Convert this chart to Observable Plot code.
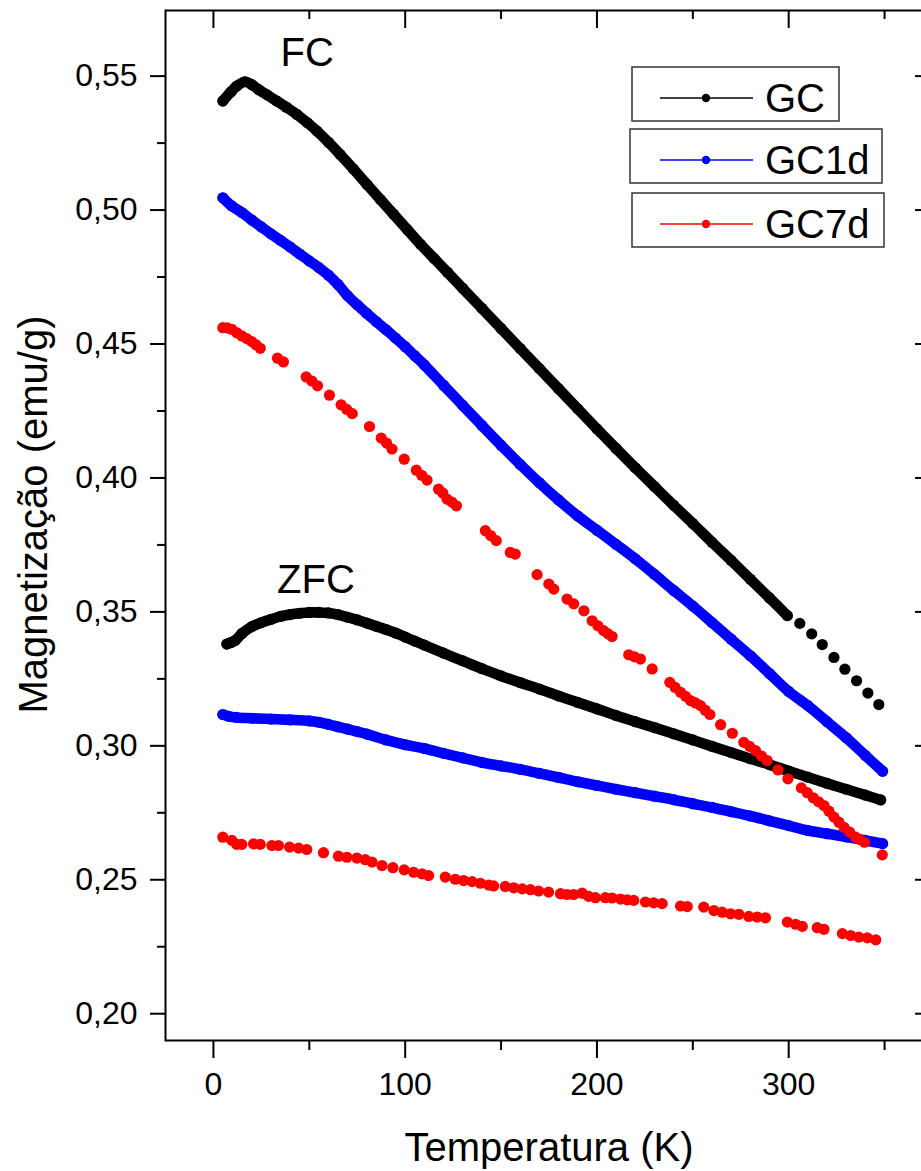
<!DOCTYPE html>
<html>
<head>
<meta charset="utf-8">
<script src="https://cdn.jsdelivr.net/npm/d3@7"></script>
<script src="https://cdn.jsdelivr.net/npm/@observablehq/plot@0.6"></script>
<style>
html, body { margin: 0; padding: 0; background: #fff; overflow: hidden; }
#chart { width: 921px; height: 1171px; }
</style>
</head>
<body>
<div id="chart"></div>
<script>
// ---------- data: [Temperatura (K), Magnetização (emu/g)] ----------
// GC, field cooled
const gcFC = [[4.9,0.5407],[9.1,0.5441],[12.2,0.5463],[16.5,0.5479],[20,0.5468],[23.5,0.5450],[28,0.5430],[33,0.5407],[38,0.5384],[43.5,0.5357],[49,0.5326],[54,0.5295],[60,0.5253],[66,0.5208],[73,0.5153],[80,0.5096],[87,0.5040],[94,0.4984],[101,0.4928],[108,0.4872],[115,0.4820],[122,0.4768],[130,0.4708],[140,0.4633],[150,0.4558],[160,0.4483],[170,0.4408],[180,0.4333],[190,0.4258],[200,0.4183],[210,0.4110],[220,0.4038],[230,0.3968],[240,0.3898],[250,0.3830],[260,0.3760],[270,0.3692],[280,0.3622],[290,0.3552],[299.3,0.3486]];
const gcFCsparse = [[305.8,0.3457],[312,0.3418],[317.5,0.3378],[323.6,0.3330],[329.3,0.3286],[335.4,0.3243],[341.3,0.3197],[347,0.3154]];
// GC1d, field cooled
const gc1dFC = [[4.9,0.5046],[9.6,0.5015],[15,0.4990],[20,0.4963],[25,0.4937],[30,0.4911],[35,0.4887],[40,0.4862],[45,0.4836],[50,0.4810],[55,0.4785],[60,0.4757],[65,0.4722],[70,0.4680],[75,0.4646],[80,0.4614],[85,0.4583],[90,0.4553],[95,0.4522],[100,0.4490],[105,0.4456],[110,0.4422],[120,0.4346],[130,0.4271],[140,0.4196],[150,0.4122],[160,0.4050],[170,0.3982],[180,0.3918],[190,0.3858],[200,0.3805],[210,0.3752],[220,0.3698],[230,0.3640],[240,0.3580],[250,0.3522],[260,0.3460],[270,0.3398],[280,0.3336],[290,0.3270],[300,0.3203],[310,0.3150],[320,0.3090],[330,0.3030],[340,0.2964],[349,0.2905]];
// GC7d, field cooled
const gc7dFC = [[4.9,0.4561],[7.2,0.4560],[9.6,0.4555],[12.2,0.4542],[14.8,0.4530],[17.4,0.4520],[20,0.4509],[22.2,0.4497],[24.4,0.4484],[33.4,0.4447],[36.5,0.4433],[48.4,0.4377],[51.3,0.4362],[54.3,0.4344],[60.5,0.4309],[66.6,0.4273],[69.5,0.4256],[72.4,0.4240],[81.4,0.4192],[87.5,0.4149],[90.3,0.4130],[93.1,0.4108],[99.5,0.4070],[105.8,0.4029],[108.6,0.4010],[111.4,0.3992],[117.4,0.3958],[119.6,0.3944],[121.8,0.3921],[124.3,0.3910],[126.7,0.3896],[141.8,0.3803],[144.6,0.3785],[147.5,0.3766],[154.8,0.3722],[157.4,0.3716],[168.8,0.3639],[174.9,0.3604],[177.5,0.3585],[184.4,0.3548],[187.9,0.3530],[193.2,0.3504],[197.5,0.3467],[200.5,0.3448],[203.5,0.3430],[205.8,0.3418],[207.9,0.3408],[216.6,0.3340],[219.6,0.3332],[222.7,0.3324],[228.8,0.3287],[238,0.3237],[240.8,0.3218],[243.6,0.3200],[246.2,0.3185],[248.8,0.3169],[251.4,0.3160],[254,0.3150],[256.5,0.3133],[258.9,0.3117],[264.5,0.3079],[270.6,0.3047],[276.6,0.3013],[279.6,0.2998],[282.7,0.2982],[285.8,0.2962],[288.8,0.2945],[294.4,0.2910],[299.6,0.2877],[306.6,0.2843],[309.7,0.2825],[312.8,0.2806],[315.6,0.2791],[318.4,0.2777],[321,0.2756],[323.6,0.2734],[326.2,0.2715],[328.8,0.2696],[331.8,0.2678],[334.9,0.2659],[337.3,0.2650],[339.6,0.2640],[348.8,0.2593]];
// GC, zero field cooled
const gcZFC = [[7,0.3380],[9,0.3385],[11.3,0.3393],[15,0.3420],[20,0.3445],[25,0.3460],[30,0.3472],[35,0.3483],[40,0.3490],[45,0.3495],[50,0.3498],[55,0.3498],[60,0.3496],[65,0.3490],[70,0.3480],[75,0.3470],[80,0.3458],[85,0.3446],[90,0.3434],[95,0.3421],[100,0.3406],[105,0.3391],[110,0.3376],[120,0.3346],[130,0.3317],[140,0.3288],[150,0.3261],[160,0.3236],[170,0.3212],[180,0.3186],[190,0.3162],[200,0.3138],[210,0.3113],[220,0.3090],[230,0.3068],[240,0.3045],[250,0.3022],[260,0.2998],[270,0.2975],[280,0.2952],[290,0.2930],[300,0.2906],[310,0.2883],[320,0.2860],[330,0.2838],[340,0.2816],[348,0.2798]];
// GC1d, zero field cooled
const gc1dZFC = [[4.9,0.3117],[8,0.3110],[12,0.3106],[20,0.3103],[30,0.3100],[40,0.3097],[50,0.3093],[55,0.3088],[60,0.3080],[65,0.3071],[70,0.3062],[75,0.3053],[80,0.3044],[90,0.3022],[100,0.3004],[110,0.2990],[120,0.2972],[130,0.2955],[140,0.2938],[150,0.2925],[160,0.2912],[170,0.2897],[180,0.2882],[190,0.2866],[200,0.2852],[210,0.2838],[220,0.2825],[230,0.2812],[240,0.2799],[250,0.2784],[260,0.2770],[270,0.2754],[280,0.2738],[290,0.2720],[300,0.2702],[310,0.2684],[320,0.2672],[330,0.2660],[340,0.2647],[349,0.2635]];
// GC7d, zero field cooled
const gc7dZFC = [[4.9,0.2659],[9.6,0.2647],[12.2,0.2632],[14.8,0.2632],[20.9,0.2634],[24.4,0.2632],[30.5,0.2628],[33.9,0.2628],[39.7,0.2622],[44.4,0.2618],[48.7,0.2613],[57.4,0.2601],[65.2,0.2588],[69.6,0.2584],[74.8,0.2581],[79.2,0.2575],[82.7,0.2566],[87.9,0.2553],[93.6,0.2545],[99.5,0.2537],[104.4,0.2528],[108.8,0.2522],[112.2,0.2516],[120.9,0.2510],[126.1,0.2502],[130.5,0.2497],[134.9,0.2493],[139.2,0.2487],[143.5,0.2480],[146.1,0.2477],[152.2,0.2475],[156.6,0.2470],[161,0.2466],[165.3,0.2463],[169.6,0.2458],[174.8,0.2454],[181,0.2448],[184.4,0.2445],[187.9,0.2445],[192.3,0.2450],[195.7,0.2438],[199.2,0.2433],[204.4,0.2433],[207.9,0.2432],[212.3,0.2428],[215.8,0.2425],[219.2,0.2423],[225.3,0.2417],[229.6,0.2414],[234,0.2411],[243.6,0.2402],[247.1,0.2400],[255.7,0.2398],[261,0.2385],[265.3,0.2379],[269.7,0.2373],[274,0.2371],[279.2,0.2363],[283.6,0.2361],[287.9,0.2358],[299.3,0.2342],[303.6,0.2334],[307.1,0.2326],[314.9,0.2321],[318.4,0.2315],[328,0.2299],[332.3,0.2292],[336.6,0.2286],[341,0.2283],[345.4,0.2276]];

const seriesNames = ["GC", "GC1d", "GC7d"];
const seriesColors = ["#000000", "#0000ff", "#ff0000"];
const curveLabels = ["FC", "ZFC"];
const curveLabelT = [35, 33.2];
const curveLabelM = [0.5537, 0.3572];

const yMajor = [0.20, 0.25, 0.30, 0.35, 0.40, 0.45, 0.50, 0.55];
const yMinor = [0.225, 0.275, 0.325, 0.375, 0.425, 0.475, 0.525];
const xMajor = [0, 100, 200, 300];
const xMinor = [50, 150, 250, 350];
const xTitle = "Temperatura (K)";
const yTitle = "Magnetização (emu/g)";

// ---------- build ----------
const rows = (arr) => arr.map(([T, M]) => ({T, M}));
const fmt = d => d.toFixed(2).replace(".", ",");
const font = "'Liberation Sans', Arial, Helvetica, sans-serif";
const R = 5.6;

const dense = [
  [gcFC, seriesColors[0]], [gcZFC, seriesColors[0]],
  [gc1dFC, seriesColors[1]], [gc1dZFC, seriesColors[1]]
];
const dotted = [
  [gcFC, seriesColors[0]], [gcFCsparse, seriesColors[0]], [gcZFC, seriesColors[0]],
  [gc1dFC, seriesColors[1]], [gc1dZFC, seriesColors[1]],
  [gc7dFC, seriesColors[2]], [gc7dZFC, seriesColors[2]]
];

const noText = () => "";
const chart = Plot.plot({
  width: 921,
  height: 1171,
  marginTop: 10,
  marginBottom: 131,
  marginLeft: 165,
  marginRight: -11,
  style: {fontFamily: font, background: "white", color: "#000", overflow: "hidden"},
  x: {domain: [-25, 375]},
  y: {domain: [0.19, 0.5745]},
  marks: [
    ...dense.map(([d, c]) => Plot.line(rows(d), {x: "T", y: "M", stroke: c, strokeWidth: 2 * R - 0.6, curve: "catmull-rom", strokeLinecap: "round", strokeLinejoin: "round"})),
    ...dotted.map(([d, c]) => Plot.dot(rows(d), {x: "T", y: "M", r: R, fill: c, stroke: "none"})),
    Plot.frame({stroke: "#000", strokeWidth: 2}),
    Plot.axisY({ticks: yMajor, anchor: "left", tickSize: 15, tickPadding: 13, tickFormat: fmt, fontSize: 32, strokeWidth: 2, label: null}),
    Plot.axisY({ticks: yMinor, anchor: "left", tickSize: 8, tickFormat: noText, strokeWidth: 2, label: null}),
    Plot.axisY({ticks: yMajor, anchor: "right", tickSize: -18, tickFormat: noText, strokeWidth: 2, label: null}),
    Plot.axisY({ticks: yMinor, anchor: "right", tickSize: -8, tickFormat: noText, strokeWidth: 2, label: null}),
    Plot.axisX({ticks: xMajor, anchor: "bottom", tickSize: 18, tickPadding: 14, fontSize: 32, strokeWidth: 2, label: null}),
    Plot.axisX({ticks: xMinor, anchor: "bottom", tickSize: 10, tickFormat: noText, strokeWidth: 2, label: null}),
    Plot.axisX({ticks: xMajor, anchor: "top", tickSize: -17, tickFormat: noText, strokeWidth: 2, label: null}),
    Plot.axisX({ticks: xMinor, anchor: "top", tickSize: -8, tickFormat: noText, strokeWidth: 2, label: null}),
    Plot.text(curveLabels, {x: (d, i) => curveLabelT[i], y: (d, i) => curveLabelM[i], text: d => d, textAnchor: "start", lineAnchor: "bottom", fontSize: 40, fill: "#000"}),
    Plot.text([xTitle], {text: d => d, frameAnchor: "bottom", textAnchor: "middle", lineAnchor: "top", dy: 92, fontSize: 40, fill: "#000"}),
    Plot.text([yTitle], {text: d => d, frameAnchor: "left", textAnchor: "middle", lineAnchor: "middle", rotate: -90, dx: -131, dy: -11, fontSize: 40, fill: "#000"})
  ]
});
document.getElementById("chart").appendChild(chart);

// ---------- legend ----------
const legendBoxes = [
  {x: 632, y: 67, w: 207, h: 54},
  {x: 630, y: 129, w: 252, h: 54},
  {x: 632, y: 193, w: 252, h: 54}
];
const svg = d3.select(chart);
const lg = svg.append("g").attr("font-family", font).attr("text-anchor", "start");
seriesNames.forEach((name, i) => {
  const b = legendBoxes[i];
  const cy = b.y + b.h / 2 + 4;
  const g = lg.append("g");
  g.append("rect").attr("x", b.x).attr("y", b.y).attr("width", b.w).attr("height", b.h)
    .attr("fill", "white").attr("stroke", "#333").attr("stroke-width", 1.5);
  g.append("line").attr("x1", 660).attr("x2", 753).attr("y1", cy).attr("y2", cy)
    .attr("stroke", seriesColors[i]).attr("stroke-width", 1.3);
  g.append("circle").attr("cx", 706).attr("cy", cy).attr("r", 4.2).attr("fill", seriesColors[i]);
  g.append("text").attr("x", 765).attr("y", b.y + 45).attr("font-size", 40)
    .attr("text-anchor", "start").attr("fill", "#000").text(name);
});
</script>
</body>
</html>
